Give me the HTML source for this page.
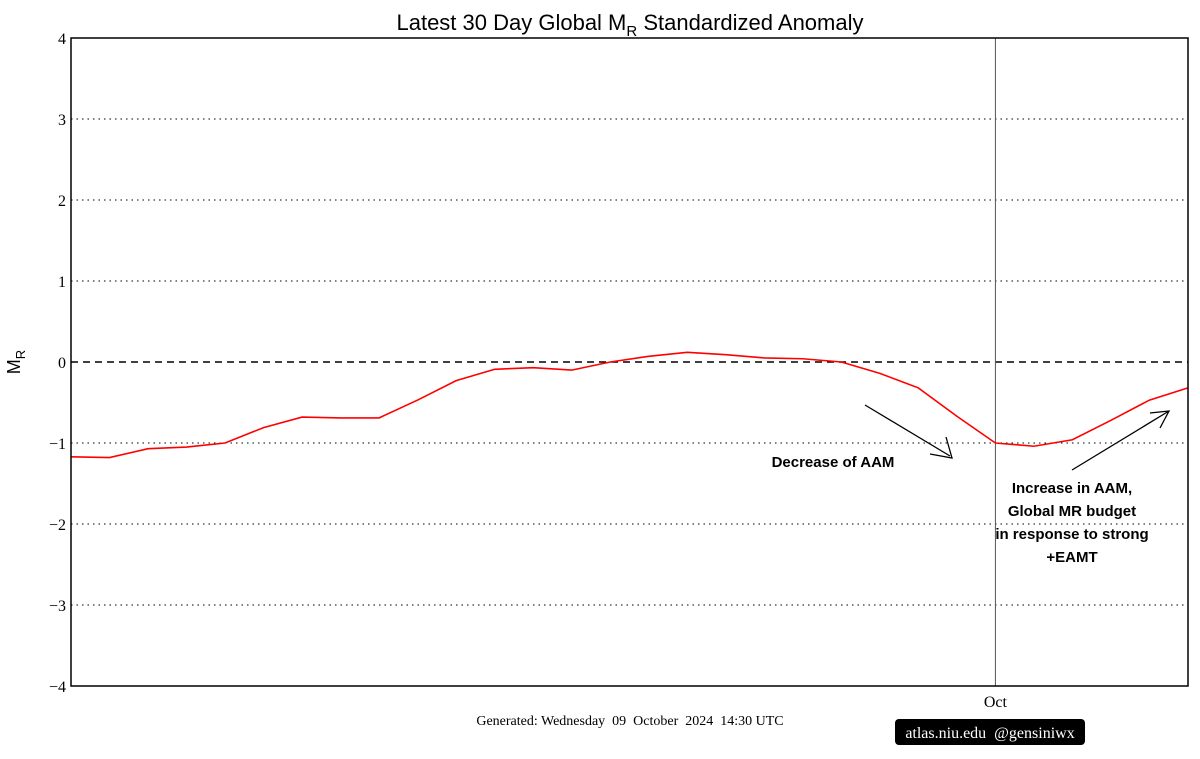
<!DOCTYPE html>
<html><head><meta charset="utf-8"><style>
body{margin:0;background:#fff;width:1200px;height:759px;overflow:hidden}
svg{display:block}
.t{font-family:"Liberation Serif",serif;font-size:16px;fill:#000;white-space:pre}
.b{font-family:"Liberation Sans",sans-serif;font-weight:bold;font-size:15px;fill:#000}
</style></head><body>
<svg id="chart" width="1200" height="759">
<text x="630" y="30" text-anchor="middle" font-family="Liberation Sans,sans-serif" font-size="22">Latest 30 Day Global M<tspan font-size="15" dy="6">R</tspan><tspan dy="-6"> Standardized Anomaly</tspan></text>
<g id="grid"></g>
<g id="axes"></g>
<polyline id="line" fill="none" stroke="#ff0000" stroke-width="1.6"/>
<rect x="71" y="38" width="1117" height="648" fill="none" stroke="#000" stroke-width="1.5"/>
<text x="20" y="362" transform="rotate(-90 20 362)" text-anchor="middle" font-family="Liberation Sans,sans-serif" font-size="18">M<tspan font-size="13" dy="5">R</tspan></text>
<g>
<line x1="865" y1="405" x2="950" y2="456" stroke="#000" stroke-width="1.3"/>
<polyline points="946,437 952,458 930,454" fill="none" stroke="#000" stroke-width="1.3"/>
<text x="833" y="467" text-anchor="middle" class="b">Decrease of AAM</text>
</g>
<g>
<line x1="1072" y1="470" x2="1169" y2="411" stroke="#000" stroke-width="1.3"/>
<polyline points="1150,413 1169,411 1160,428" fill="none" stroke="#000" stroke-width="1.3"/>
<text x="1072" y="493" text-anchor="middle" class="b">Increase in AAM,</text>
<text x="1072" y="516" text-anchor="middle" class="b">Global MR budget</text>
<text x="1072" y="539" text-anchor="middle" class="b">in response to strong</text>
<text x="1072" y="562" text-anchor="middle" class="b">+EAMT</text>
</g>
<text x="630" y="725" text-anchor="middle" class="t" style="font-size:14px">Generated: Wednesday  09  October  2024  14:30 UTC</text>
<rect x="895" y="719" width="190" height="26" rx="4" fill="#000"/>
<text x="990" y="738" text-anchor="middle" class="t" style="fill:#fff">atlas.niu.edu  @gensiniwx</text>
</svg>
<script>
const yTicks=[4,3,2,1,0,-1,-2,-3,-4];
const yLabels=["4","3","2","1","0","\u22121","\u22122","\u22123","\u22124"];
const values=[-1.17,-1.18,-1.07,-1.05,-1.0,-0.81,-0.68,-0.69,-0.69,-0.47,-0.23,-0.09,-0.07,-0.10,0.0,0.07,0.12,0.09,0.05,0.04,0.0,-0.14,-0.32,-0.67,-1.0,-1.04,-0.96,-0.72,-0.47,-0.32];
const octIndex=24;
const L=71,R=1188,T=38,B=686;
const x=i=>L+(R-L)*i/(values.length-1);
const y=v=>T+(4-v)*(B-T)/8;
const NS="http://www.w3.org/2000/svg";
const grid=document.getElementById('grid'),axes=document.getElementById('axes');
yTicks.forEach((t,k)=>{
 if(t!==4&&t!==-4){
  const l=document.createElementNS(NS,'line');
  l.setAttribute('x1',L);l.setAttribute('x2',R);l.setAttribute('y1',y(t));l.setAttribute('y2',y(t));
  l.setAttribute('stroke','#000');l.setAttribute('stroke-width',t===0?1.5:1);
  l.setAttribute('stroke-dasharray',t===0?'7,5':'1.5,4');
  
  
  grid.appendChild(l);
 }
 const tx=document.createElementNS(NS,'text');
 tx.setAttribute('x',L-5);tx.setAttribute('y',y(t)+6);tx.setAttribute('text-anchor','end');
 tx.setAttribute('class','t');tx.textContent=yLabels[k];
 
 
 axes.appendChild(tx);
});
const ox=x(octIndex);
const vl=document.createElementNS(NS,'line');
vl.setAttribute('x1',ox);vl.setAttribute('x2',ox);vl.setAttribute('y1',T);vl.setAttribute('y2',B);
vl.setAttribute('stroke','#555');vl.setAttribute('stroke-width',1);


grid.appendChild(vl);
const ot=document.createElementNS(NS,'text');
ot.setAttribute('x',ox);ot.setAttribute('y',B+21);ot.setAttribute('text-anchor','middle');ot.setAttribute('class','t');
ot.textContent='Oct';


axes.appendChild(ot);
document.getElementById('line').setAttribute('points',values.map((v,i)=>x(i)+','+y(v)).join(' '));
</script>
</body></html>
